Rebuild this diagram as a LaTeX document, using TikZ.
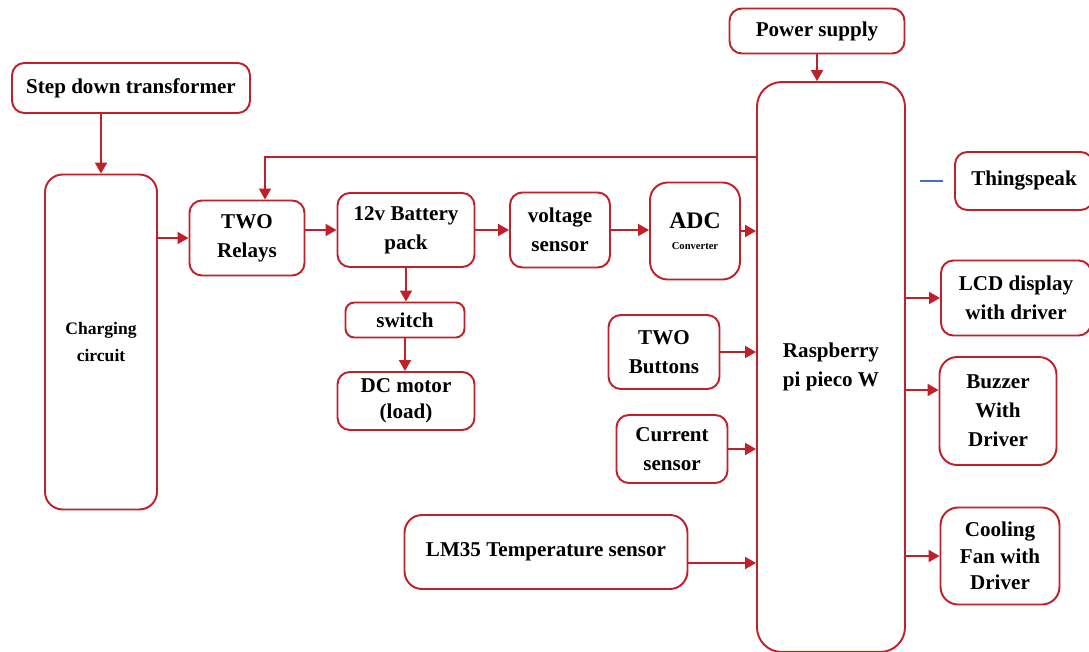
\documentclass[tikz,border=0pt]{standalone}
\usepackage{fontspec}
\setmainfont{Liberation Serif}
\usepackage{tikz}
\usetikzlibrary{arrows.meta,positioning,calc}
\definecolor{rojo}{RGB}{192,32,42}
\definecolor{azulito}{RGB}{70,110,190}

\begin{document}
\begin{tikzpicture}[x=0.02cm,y=-0.02cm,
blk/.style={draw=rojo,line width=1.1pt,rounded corners=7pt,fill=white,align=center,inner sep=2pt,font=\bfseries\fontsize{12}{16.5}\selectfont},
arr/.style={-{Triangle[length=2.2mm,width=2.4mm]},draw=rojo,line width=1.1pt}
]
\useasboundingbox (0,0) rectangle (1089,652);

\node[blk,minimum width=4.76cm,minimum height=1cm] (step) at (131,88) {Step down transformer};
\node[blk,minimum width=2.24cm,minimum height=6.7cm,rounded corners=10pt,font=\bfseries\fontsize{10}{15}\selectfont] (charge) at (101,342) {Charging\\circuit};
\node[blk,minimum width=2.3cm,minimum height=1.5cm] (relays) at (247,238) {TWO\\Relays};
\node[blk,minimum width=2.74cm,minimum height=1.48cm] (batt) at (406,230) {12v Battery\\pack};
\node[blk,minimum width=2.38cm,minimum height=0.7cm,rounded corners=5pt] (switch) at (405,320) {switch};
\node[blk,minimum width=2.74cm,minimum height=1.16cm,font=\bfseries\fontsize{12}{15}\selectfont] (motor) at (406,401) {DC motor\\(load)};
\node[blk,minimum width=2cm,minimum height=1.5cm] (volt) at (560,230) {voltage\\sensor};
\node[blk,minimum width=1.8cm,minimum height=1.94cm,rounded corners=10pt,font=\bfseries\fontsize{13.5}{14}\selectfont] (adc) at (695,231) {ADC\\[-2pt]{\fontsize{6}{7}\selectfont Converter}};
\node[blk,minimum width=2.96cm,minimum height=11.4cm,rounded corners=14pt] (pi) at (831,367) {Raspberry\\pi pieco W};
\node[blk,minimum width=3.5cm,minimum height=0.9cm] (power) at (817,31) {Power supply};
\node[blk,minimum width=2.76cm,minimum height=1.16cm] (thing) at (1024,181) {Thingspeak};
\node[blk,minimum width=3cm,minimum height=1.5cm] (lcd) at (1016,298) {LCD display\\with driver};
\node[blk,minimum width=2.34cm,minimum height=2.16cm,rounded corners=10pt] (buzz) at (998,411) {Buzzer\\With\\Driver};
\node[blk,minimum width=2.38cm,minimum height=1.94cm,rounded corners=10pt,font=\bfseries\fontsize{12}{15}\selectfont] (fan) at (1000,556) {Cooling\\Fan with\\Driver};
\node[blk,minimum width=2.22cm,minimum height=1.48cm] (btn) at (664,352) {TWO\\Buttons};
\node[blk,minimum width=2.22cm,minimum height=1.36cm] (curr) at (672,449) {Current\\sensor};
\node[blk,minimum width=5.66cm,minimum height=1.48cm,rounded corners=10pt] (lm35) at (546,552) {LM35 Temperature sensor};

\coordinate (bus) at (265,157);

\draw[arr] (charge.north |- step.south) -- (charge.north);
\draw[arr] (charge.east |- relays) -- (relays.west);
\draw[arr] (pi.west |- bus) -- (bus) -- (bus |- relays.north);
\draw[arr] (relays.east |- batt) -- (batt.west);
\draw[arr] (batt.east) -- (volt.west);
\draw[arr] (volt.east) -- (volt.east -| adc.west);
\draw[arr] (adc.east) -- (adc.east -| pi.west);
\draw[arr] (batt.south) -- (batt.south |- switch.north);
\draw[arr] (switch.south) -- (switch.south |- motor.north);
\draw[arr] (power.south) -- (power.south |- pi.north);
\draw[arr] (btn.east) -- (btn.east -| pi.west);
\draw[arr] (curr.east) -- (curr.east -| pi.west);
\draw[arr] ([yshift=-0.22cm]lm35.east) -- ([yshift=-0.22cm]lm35.east -| pi.west);
\draw[arr] (lcd.west -| pi.east) -- (lcd.west);
\draw[arr] ([yshift=0.42cm]buzz.west -| pi.east) -- ([yshift=0.42cm]buzz.west);
\draw[arr] (fan.west -| pi.east) -- (fan.west);
\draw[azulito,line width=1.1pt] ([xshift=-0.22cm]thing.west) -- ([xshift=-0.68cm]thing.west);
\end{tikzpicture}
\end{document}
